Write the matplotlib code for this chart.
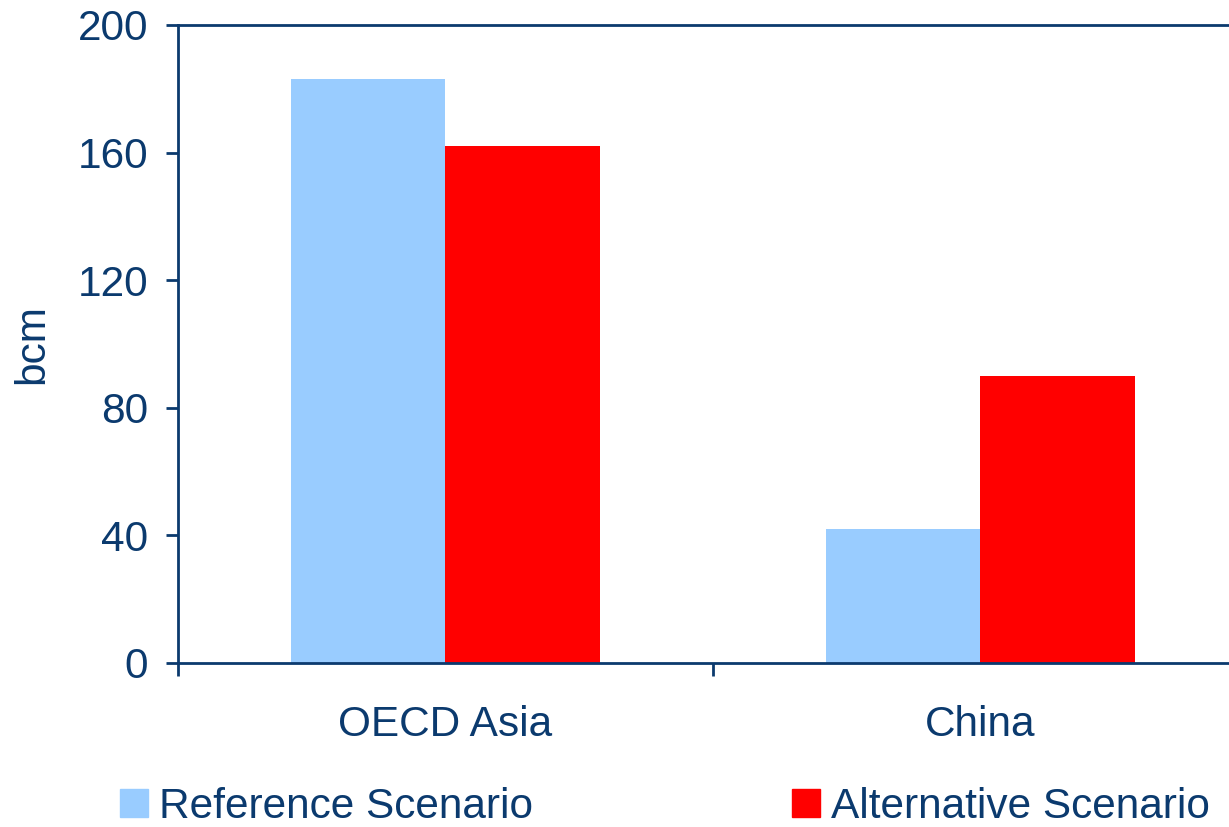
import matplotlib
matplotlib.use("Agg")
import matplotlib.pyplot as plt
from matplotlib.patches import Patch

# data
regions = ["OECD Asia", "China"]
reference = [183, 42]
alternative = [162, 90]
yticks = [0, 40, 80, 120, 160, 200]

navy = "#0B3A6E"
blue = "#99CCFF"
red = "#FF0000"
fs = 30.5

plt.rcParams["font.family"] = ["Liberation Sans", "DejaVu Sans"]

fig = plt.figure(figsize=(12.29, 8.27), dpi=100)
ax = fig.add_axes([178 / 1229, 164 / 827, 1070 / 1229, 638 / 827])

w = 0.288
x = list(range(len(regions)))
ax.bar([i - w / 2 for i in x], reference, width=w, color=blue, label="Reference Scenario")
ax.bar([i + w / 2 for i in x], alternative, width=w, color=red, label="Alternative Scenario")

ax.set_xlim(-0.5, 1.5)
ax.set_ylim(0, 200)
ax.set_yticks(yticks)
ax.set_ylabel("bcm", fontsize=fs, color=navy, labelpad=18)

# category boundaries get the tick marks, labels sit in the middle
ax.set_xticks([-0.5, 0.5, 1.5])
ax.set_xticklabels([])
ax.set_xticks(x, minor=True)
ax.set_xticklabels(regions, minor=True)
ax.tick_params(axis="x", which="major", direction="out", length=9.5, width=2, color=navy)
ax.tick_params(axis="x", which="minor", length=0, pad=30, labelsize=fs, labelcolor=navy)
ax.tick_params(axis="y", direction="out", length=8.6, width=2, color=navy,
               labelsize=fs, labelcolor=navy, pad=13)

for side in ["left", "bottom", "top", "right"]:
    ax.spines[side].set_color(navy)
    ax.spines[side].set_linewidth(2)

handles = [Patch(color=blue, label="Reference Scenario"),
           Patch(color=red, label="Alternative Scenario")]
fig.legend(handles=handles, loc="lower left", bbox_to_anchor=(120 / 1229, 0.0),
           ncol=2, frameon=False, fontsize=fs, labelcolor=navy,
           handlelength=0.66, handleheight=0.66, handletextpad=0.27,
           columnspacing=6.1, borderpad=0.0, borderaxespad=0)

fig.savefig("out.png", dpi=100)
